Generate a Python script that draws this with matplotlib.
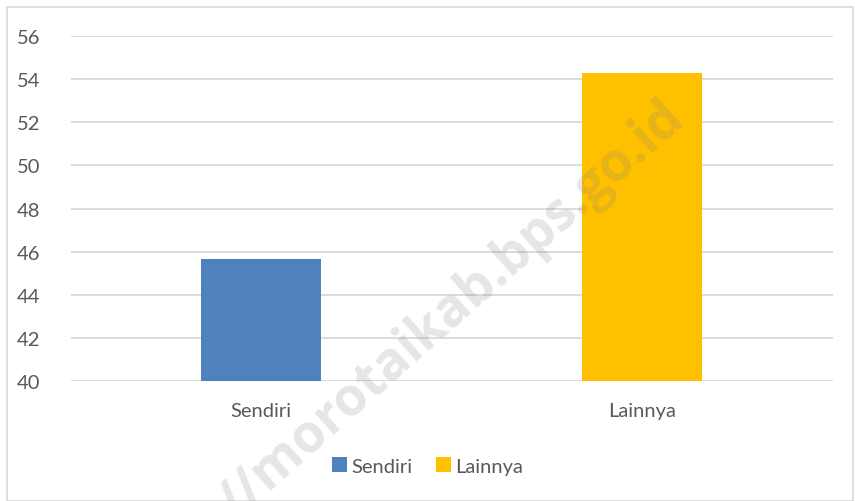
import matplotlib.pyplot as plt
from matplotlib.patches import Rectangle

categories = ["Sendiri", "Lainnya"]
values = [45.65, 54.3]
colors = ["#4f81bd", "#ffc000"]
yticks = [40, 42, 44, 46, 48, 50, 52, 54, 56]

plt.rcParams['font.family'] = ['Lato', 'DejaVu Sans']

fig = plt.figure(figsize=(8.55, 5.02), dpi=100)
ax = fig.add_axes([0.083, 0.239, 0.891, 0.687])

x = list(range(len(categories)))
bars = ax.bar(x, [v - 40 for v in values], bottom=40, width=0.315,
              color=colors, label=categories, zorder=3)

ax.set_xlim(-0.5, 1.5)
ax.set_ylim(40, 56)
ax.set_yticks(yticks)
ax.set_xticks(x)
ax.set_xticklabels(categories)
ax.yaxis.grid(True, color="#d9d9d9", linewidth=1.3, zorder=0)
for s in ax.spines.values():
    s.set_visible(False)
ax.tick_params(axis="both", length=0, labelsize=14.5, labelcolor="#595959")
ax.tick_params(axis="x", pad=15)
ax.tick_params(axis="y", pad=22)

fig.legend(bars, categories, loc="center", bbox_to_anchor=(0.5, 0.07),
           ncol=2, frameon=False, fontsize=14.5, labelcolor="#595959",
           handlelength=0.75, handleheight=0.75, handletextpad=0.2,
           columnspacing=1.2)

# chart border
fig.patches.append(Rectangle((0.008, 0.0), 0.99, 0.985, transform=fig.transFigure,
                             fill=False, edgecolor="#d9d9d9", linewidth=1.2))

# watermark
fig.text(678 / 855, 1 - 112 / 502, "//morotaikab.bps.go.id", rotation=41.5,
         ha="right", va="center", rotation_mode="anchor", fontsize=38,
         fontweight="bold", color="#808080", alpha=0.2,
         family=["Open Sans", "DejaVu Sans"])

fig.savefig("out.png", dpi=100)
